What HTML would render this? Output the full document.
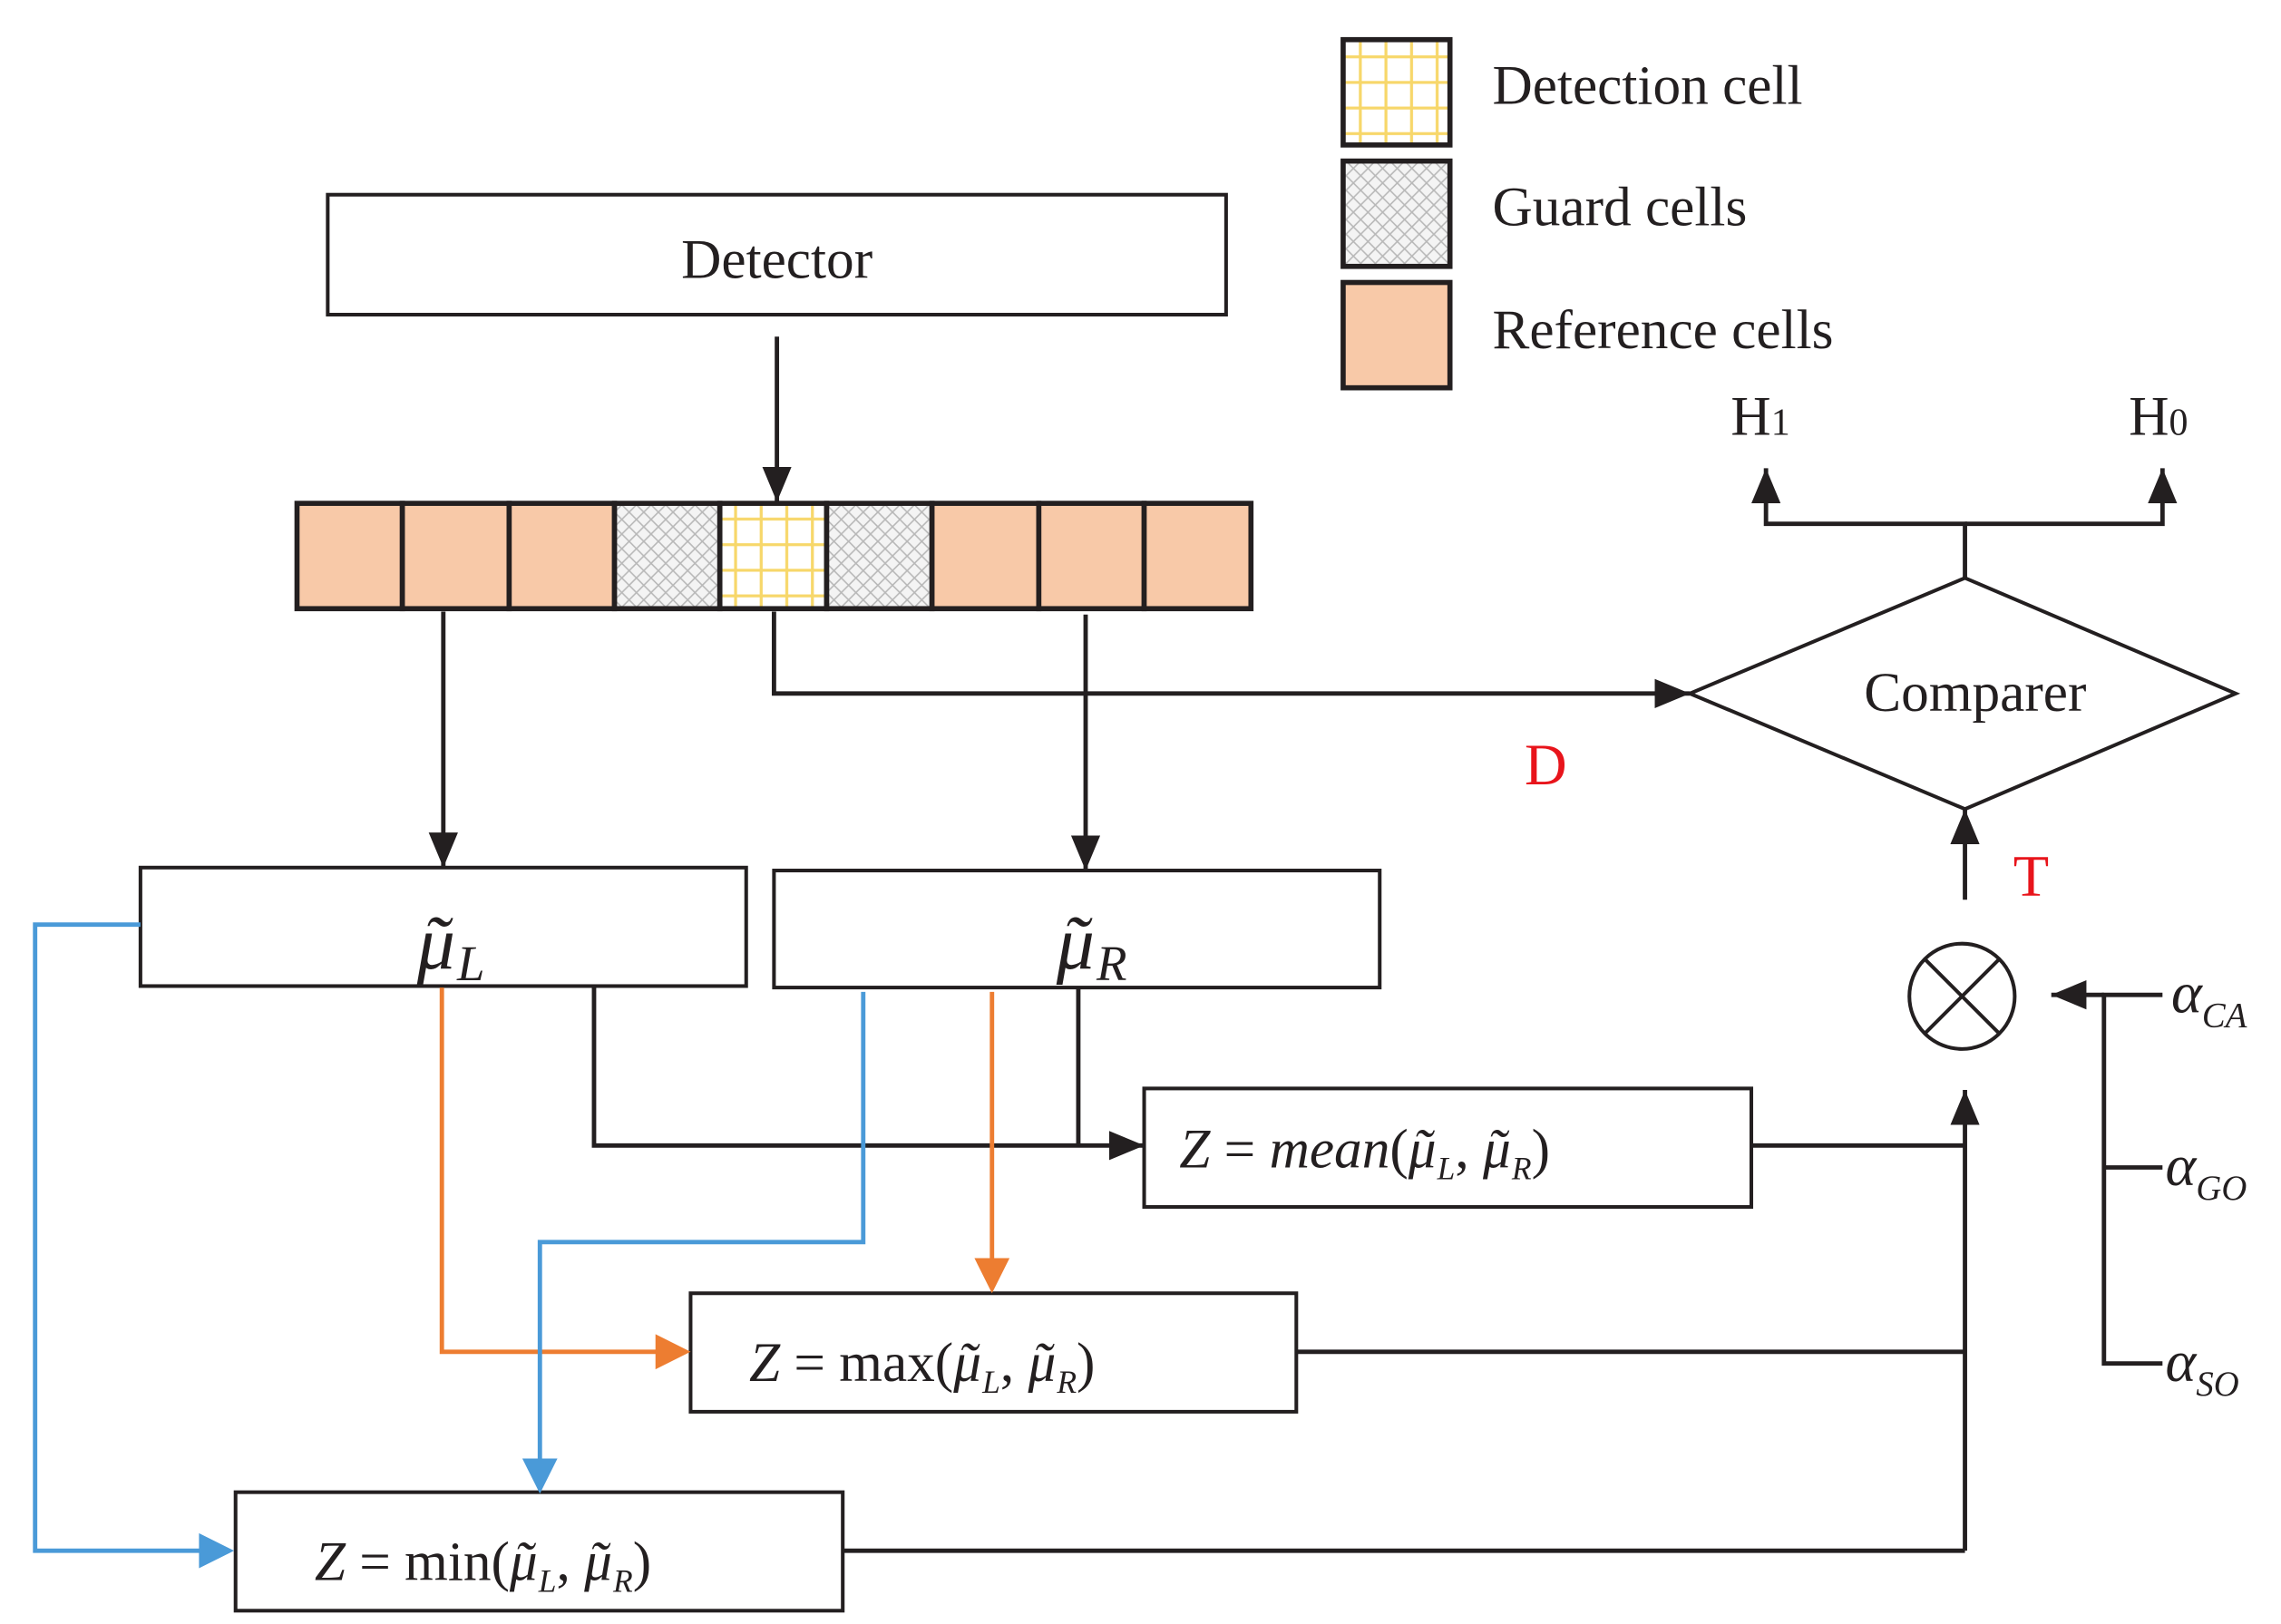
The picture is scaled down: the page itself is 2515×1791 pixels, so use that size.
<!DOCTYPE html>
<html><head><meta charset="utf-8"><style>html,body{margin:0;padding:0;background:#fff}svg{display:block}</style></head>
<body>
<svg width="2515" height="1791" viewBox="0 0 1559 1110" xmlns="http://www.w3.org/2000/svg" font-family="Liberation Serif, serif">
<defs>
<pattern id="guard" width="10" height="10" patternUnits="userSpaceOnUse">
<rect width="10" height="10" fill="#f4f4f4"/>
<path d="M0 0L10 10M10 0L0 10" stroke="#b8b8b8" stroke-width="1"/>
</pattern>
<pattern id="det" width="17.5" height="17.5" patternUnits="userSpaceOnUse" x="494" y="346">
<rect width="17.5" height="17.5" fill="#fff"/>
<path d="M8.75 0V17.5M0 8.75H17.5" stroke="#f7d76a" stroke-width="2"/>
</pattern>
<pattern id="det2" width="17.5" height="17.5" patternUnits="userSpaceOnUse" x="921" y="30">
<rect width="17.5" height="17.5" fill="#fff"/>
<path d="M8.75 0V17.5M0 8.75H17.5" stroke="#f7d76a" stroke-width="2"/>
</pattern>
<marker id="ak" markerWidth="24" markerHeight="20" refX="24" refY="10" orient="auto" markerUnits="userSpaceOnUse" viewBox="0 0 24 20"><path d="M0 0L24 10L0 20z" fill="#231f20"/></marker>
</defs>
<g stroke="#231f20" stroke-width="3.5" fill="none">
<rect x="918" y="27" width="73" height="72" fill="url(#det2)"/>
<rect x="918" y="110" width="73" height="72" fill="url(#guard)"/>
<rect x="918" y="193" width="73" height="72" fill="#f8c9a8"/>
<rect x="224" y="133" width="614" height="82" fill="#fff" stroke-width="2.5"/>
<rect x="203" y="344" width="72" height="72" fill="#f8c9a8"/>
<rect x="275" y="344" width="73" height="72" fill="#f8c9a8"/>
<rect x="348" y="344" width="72" height="72" fill="#f8c9a8"/>
<rect x="420" y="344" width="72" height="72" fill="url(#guard)"/>
<rect x="492" y="344" width="73" height="72" fill="url(#det)"/>
<rect x="565" y="344" width="72" height="72" fill="url(#guard)"/>
<rect x="637" y="344" width="73" height="72" fill="#f8c9a8"/>
<rect x="710" y="344" width="72" height="72" fill="#f8c9a8"/>
<rect x="782" y="344" width="73" height="72" fill="#f8c9a8"/>
<g stroke-width="2.5" fill="#fff">
<rect x="96" y="593" width="414" height="81"/>
<rect x="529" y="595" width="414" height="80"/>
<rect x="782" y="744" width="415" height="81"/>
<rect x="472" y="884" width="414" height="81"/>
<rect x="161" y="1020" width="415" height="81"/>
<polygon points="1155,474 1343,395 1528,474 1343,553"/>
<circle cx="1341" cy="681" r="36"/>
</g>
<path d="M1316 656L1366 706M1366 656L1316 706" stroke-width="2.5"/>
<g stroke-width="3">
<path d="M531 230V343" marker-end="url(#ak)"/>
<path d="M303 418V593" marker-end="url(#ak)"/>
<path d="M742 420V595" marker-end="url(#ak)"/>
<path d="M529 418V474H1155" marker-end="url(#ak)"/>
<path d="M1343 395V358H1207V320" marker-end="url(#ak)"/>
<path d="M1343 358H1478V320" marker-end="url(#ak)"/>
<path d="M1343 615V553" marker-end="url(#ak)"/>
<path d="M406 674V783H782" marker-end="url(#ak)"/>
<path d="M737 675V783"/>
<path d="M1197 783H1343M886 924H1343M576 1060H1343"/>
<path d="M1343 1060V745" marker-end="url(#ak)"/>
<path d="M1478 680H1438V932H1478M1438 798H1478"/>
<path d="M1438 680H1402" marker-end="url(#ak)"/>
</g>
<g stroke="#ed7d31" stroke-width="3">
<path d="M302 675V924H455"/>
<path d="M678 678V865"/>
</g>
<g stroke="#4a9ad8" stroke-width="3">
<path d="M96 632H24V1060H145"/>
<path d="M590 678V849H369V1005"/>
</g>
</g>
<g fill="#ed7d31"><path d="M448 912L472 924L448 936z"/><path d="M666 860L678 884L690 860z"/></g>
<g fill="#4a9ad8"><path d="M136 1048L160 1060L136 1072z"/><path d="M357 997L369 1021L381 997z"/></g>
<g fill="#231f20" font-size="38">
<text x="1020" y="71">Detection cell</text>
<text x="1020" y="154">Guard cells</text>
<text x="1020" y="238">Reference cells</text>
<text x="531" y="190" text-anchor="middle">Detector</text>
<text x="1350" y="486" text-anchor="middle">Comparer</text>
<text x="1183" y="297">H<tspan font-size="26">1</tspan></text>
<text x="1455" y="297">H<tspan font-size="26">0</tspan></text>
<text x="285" y="662" font-size="52" font-style="italic">μ<tspan dx="-22">˜</tspan><tspan font-size="34" dx="6" dy="8">L</tspan></text>
<text x="722" y="662" font-size="52" font-style="italic">μ<tspan dx="-22">˜</tspan><tspan font-size="34" dx="6" dy="8">R</tspan></text>
<text x="806" y="798" font-style="italic">Z <tspan font-style="normal">=</tspan> mean<tspan font-style="normal">(</tspan>μ<tspan dx="-16">˜</tspan><tspan font-size="22" dx="4" dy="8">L</tspan><tspan dy="-8" font-style="normal">, </tspan>μ<tspan dx="-16">˜</tspan><tspan font-size="22" dx="4" dy="8">R</tspan><tspan dy="-8" font-style="normal">)</tspan></text>
<text x="512" y="944" font-style="italic">Z <tspan font-style="normal">= max(</tspan>μ<tspan dx="-16">˜</tspan><tspan font-size="22" dx="4" dy="8">L</tspan><tspan dy="-8" font-style="normal">, </tspan>μ<tspan dx="-16">˜</tspan><tspan font-size="22" dx="4" dy="8">R</tspan><tspan dy="-8" font-style="normal">)</tspan></text>
<text x="215" y="1080" font-style="italic">Z <tspan font-style="normal">= min(</tspan>μ<tspan dx="-16">˜</tspan><tspan font-size="22" dx="4" dy="8">L</tspan><tspan dy="-8" font-style="normal">, </tspan>μ<tspan dx="-16">˜</tspan><tspan font-size="22" dx="4" dy="8">R</tspan><tspan dy="-8" font-style="normal">)</tspan></text>
<text x="1484" y="692" font-style="italic" font-size="40">α<tspan font-size="24" dy="10">CA</tspan></text>
<text x="1480" y="810" font-style="italic" font-size="40">α<tspan font-size="24" dy="10">GO</tspan></text>
<text x="1480" y="944" font-style="italic" font-size="40">α<tspan font-size="24" dy="10">SO</tspan></text>
</g>
<g fill="#e8141b" font-size="40">
<text x="1042" y="536">D</text>
<text x="1376" y="612">T</text>
</g>
</svg>
</body></html>
